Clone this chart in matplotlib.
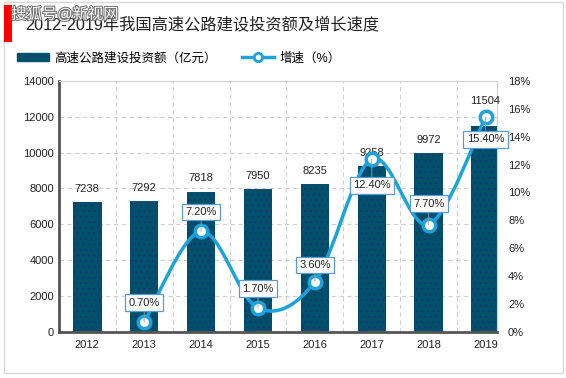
import numpy as np
import matplotlib
matplotlib.use("Agg")
import matplotlib.pyplot as plt
from matplotlib.path import Path
from matplotlib.patches import PathPatch, Rectangle
from matplotlib.lines import Line2D
import matplotlib.patheffects as pe

plt.rcParams['font.family'] = ['Liberation Sans', 'Noto Sans CJK SC', 'DejaVu Sans']
plt.rcParams['hatch.color'] = '#1B2F7A'
plt.rcParams['hatch.linewidth'] = 0.3

years = ['2012', '2013', '2014', '2015', '2016', '2017', '2018', '2019']
invest = [7238, 7292, 7818, 7950, 8235, 9258, 9972, 11504]
growth = [None, 0.7, 7.2, 1.7, 3.6, 12.4, 7.7, 15.4]
# label offsets in points (vertical) for the labels
label_dy = [0, 14, 14, 14, 12, -19, 15, -16]
bar_dy = [6, 6, 6, 6, 6, 6, 6, 14]

bar_color = '#014F6B'
line_color = '#1AA3DD'

fig = plt.figure(figsize=(5.66, 3.78), dpi=100)
fig.patches.append(Rectangle((0.007, 0.013), 0.988, 0.982, transform=fig.transFigure,
                             fill=False, edgecolor='#D9D9D9', lw=1))
ax = fig.add_axes([0.104, 0.122, 0.774, 0.664])
x = np.arange(len(years))

bars = ax.bar(x, invest, width=0.5, color=bar_color, hatch='...', lw=0, zorder=2)
for xi, v, dy in zip(x, invest, bar_dy):
    ax.annotate(str(v), (xi, v), xytext=(0, dy), textcoords='offset points',
                ha='center', va='bottom', fontsize=8, color='#222222')

ax.set_ylim(0, 14000)
ax.set_yticks(range(0, 14001, 2000))
ax.set_xlim(-0.5, 7.2)
ax.set_xticks(x)
ax.set_xticklabels(years)
ax.set_xticks(x[:-1] + 0.5, minor=True)
ax.tick_params(axis='both', which='both', length=0, labelsize=8, colors='#222222')
ax.tick_params(axis='x', pad=6)
ax.grid(True, axis='y', ls=(0, (4, 3)), color='#D0D0D0', lw=0.8, zorder=0)
ax.grid(True, axis='x', which='minor', ls=(0, (4, 3)), color='#D0D0D0', lw=0.8, zorder=0)
for s in ['left', 'bottom']:
    ax.spines[s].set_color('#555555')
    ax.spines[s].set_linewidth(2)
for s in ['top', 'right']:
    ax.spines[s].set_color('#D0D0D0')
    ax.spines[s].set_linewidth(0.8)

ax2 = ax.twinx()
ax2.set_ylim(0, 18)
ax2.set_yticks(range(0, 19, 2))
ax2.set_yticklabels([f'{t}%' for t in range(0, 19, 2)])
ax2.tick_params(axis='y', length=0, labelsize=8, colors='#222222', pad=8)
for s in ax2.spines.values():
    s.set_visible(False)

# smooth line (Catmull-Rom bezier through the points)
px = np.array([xi for xi, g in zip(x, growth) if g is not None], dtype=float)
py = np.array([g for g in growth if g is not None], dtype=float)
verts = [(px[0], py[0])]
codes = [Path.MOVETO]
n = len(px)
for i in range(n - 1):
    p0 = np.array([px[max(i - 1, 0)], py[max(i - 1, 0)]])
    p1 = np.array([px[i], py[i]])
    p2 = np.array([px[i + 1], py[i + 1]])
    p3 = np.array([px[min(i + 2, n - 1)], py[min(i + 2, n - 1)]])
    c1 = p1 + (p2 - p0) / 6
    c2 = p2 - (p3 - p1) / 6
    verts += [tuple(c1), tuple(c2), tuple(p2)]
    codes += [Path.CURVE4] * 3
ax2.add_patch(PathPatch(Path(verts, codes), fill=False, edgecolor=line_color, lw=2.5, zorder=3))
ax2.plot(px, py, ls='none', marker='o', ms=9, mfc='white', mec=line_color, mew=2.5, zorder=4)
for xi, g, dy in zip(x, growth, label_dy):
    if g is None:
        continue
    ax2.annotate(f'{g:.2f}%', (xi, g), xytext=(0, dy), textcoords='offset points',
                 ha='center', va='center', fontsize=8, color='#222222', zorder=5,
                 bbox=dict(boxstyle='square,pad=0.3', fc='white', ec='#5B9BD5', lw=0.9),
                 arrowprops=dict(arrowstyle='-', color='#A0A0A0', lw=0.6, shrinkA=0, shrinkB=0))

# legend
handles = [Rectangle((0, 0), 1, 1, color=bar_color),
           Line2D([0], [0], color=line_color, lw=2.5, marker='o', ms=6, mfc='white', mec=line_color, mew=2)]
fig.legend(handles, ['高速公路建设投资额（亿元）', '增速（%）'], loc='center left',
           bbox_to_anchor=(0.01, 0.846), ncol=2, frameon=False, fontsize=9,
           handlelength=2.6, columnspacing=2.0, handletextpad=0.4)

# title and decoration
fig.patches.append(Rectangle((0.007, 0.888), 0.014, 0.1, transform=fig.transFigure,
                             color='#FF0000', lw=0))
fig.text(0.045, 0.935, '2012-2019年我国高速公路建设投资额及增长速度', fontsize=11.7,
         color='#222222', va='center')
fig.text(0.02, 0.962, '搜狐号@新视网', fontsize=11, color='white', va='center',
         path_effects=[pe.withStroke(linewidth=1.5, foreground='#777777')])

fig.savefig('out.png', dpi=100)
